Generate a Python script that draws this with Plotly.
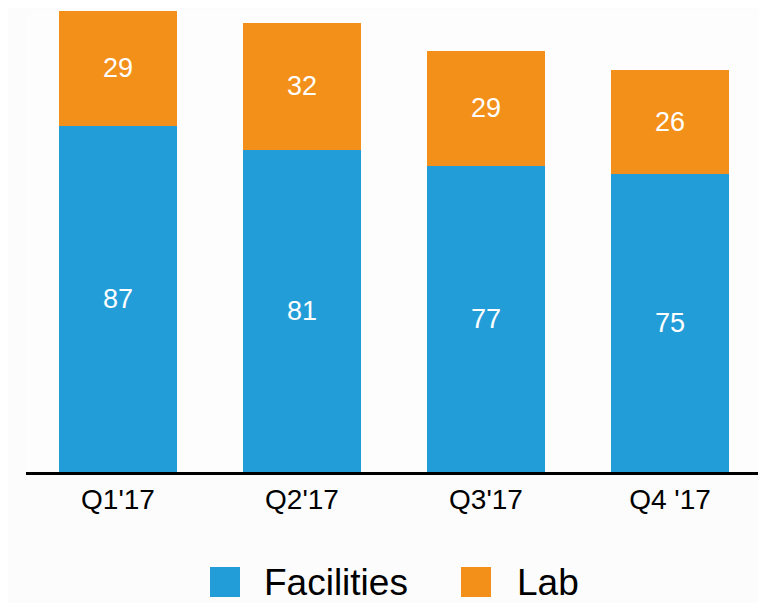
import plotly.graph_objects as go

categories = ["Q1'17", "Q2'17", "Q3'17", "Q4 '17"]
facilities = [87, 81, 77, 75]
lab = [29, 32, 29, 26]
series_names = ["Facilities", "Lab"]
colors = ["#239DD8", "#F39019"]

# page body has an 8px default margin
OFF = 8
W, H = 766 - OFF, 603 - OFF
# desired screen positions of plot area: x 26..762, y 10..472
ML, MT = 26 - OFF, 10 - OFF
MR = 766 - 762
MB = 603 - 472
PW, PH = W - ML - MR, H - MT - MB

def px_x(x):
    return (x - OFF - ML) / PW

def px_y(y):
    return (MT + PH - (y - OFF)) / PH

FONT = "Liberation Sans, Arial, Helvetica, sans-serif"

fig = go.Figure()
for name, vals, col in zip(series_names, [facilities, lab], colors):
    fig.add_trace(go.Bar(
        x=categories, y=vals, name=name,
        marker=dict(color=col, line=dict(width=0)),
        text=[str(v) for v in vals],
        textposition="inside", insidetextanchor="middle",
        textfont=dict(color="white", size=27, family=FONT),
        showlegend=False,
    ))

# manual legend (large squares)
legend_items = [(210, 262), (461, 515)]
for (sq_x, tx_x), name, col in zip(legend_items, series_names, colors):
    fig.add_shape(type="rect", xref="paper", yref="paper",
                  x0=px_x(sq_x), x1=px_x(sq_x + 30),
                  y0=px_y(597), y1=px_y(567),
                  fillcolor=col, line=dict(width=0))
    fig.add_annotation(xref="paper", yref="paper", x=px_x(tx_x), y=px_y(582),
                       text=name, showarrow=False, xanchor="left", yanchor="middle",
                       font=dict(size=37, color="black", family=FONT))

fig.update_layout(
    width=W, height=H,
    margin=dict(l=ML, r=MR, t=MT, b=MB, pad=0),
    barmode="stack", bargap=0.36,
    paper_bgcolor="#fcfcfc", plot_bgcolor="#fdfdfd",
    uniformtext=dict(minsize=10, mode="show"),
    xaxis=dict(showline=True, linecolor="black", linewidth=3, ticks="",
               tickfont=dict(size=28, color="black", family=FONT),
               showgrid=False, fixedrange=True),
    yaxis=dict(range=[0, 116.2], visible=False, showgrid=False, fixedrange=True),
)

fig.write_html("out.html")
